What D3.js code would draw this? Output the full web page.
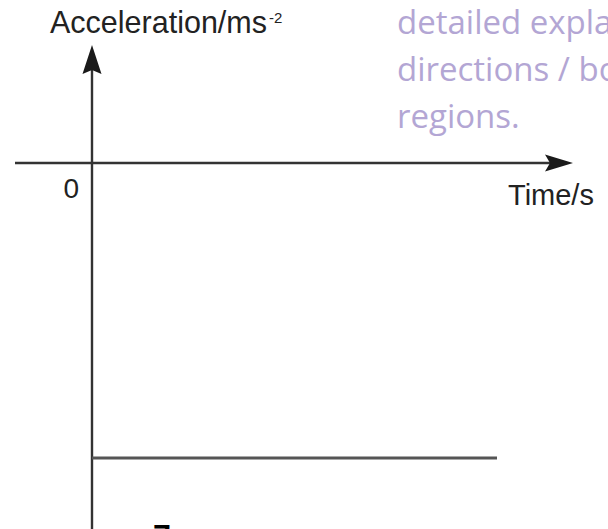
<!DOCTYPE html>
<html>
<head>
<meta charset="utf-8">
<script src="https://cdn.jsdelivr.net/npm/d3@7"></script>
<style>
  html, body { margin: 0; padding: 0; background: #fff; }
  svg { display: block; }
</style>
</head>
<body>
<svg id="chart" width="608" height="529"></svg>
<script>
// ---- data ----
const time = [0, 10];              // s
const acceleration = [-5, -5];     // m s^-2 (constant, negative)
const originTickLabels = ["0"];
const yAxisTitle = "Acceleration/ms";
const yAxisTitleSup = "-2";
const xAxisTitle = "Time/s";
const noteLines = ["detailed expla", "directions / bo", "regions."];
const noteFragment = "g";
const bottomFragment = "7";

// ---- layout ----
const W = 608, H = 529;
const svg = d3.select("#chart");

const x = d3.scaleLinear().domain([0, 10]).range([92, 497]);
const y = d3.scaleLinear().domain([0, -5]).range([163, 458]);

const axisColor = "#333";
const lineColor = "#555";

// x axis (horizontal through origin) with arrow head
const xLeft = 15, xTip = 573;
svg.append("line")
  .attr("x1", xLeft).attr("x2", xTip - 12)
  .attr("y1", y(0)).attr("y2", y(0))
  .attr("stroke", axisColor).attr("stroke-width", 2.4);
svg.append("path")
  .attr("d", `M${xTip},${y(0)} L${xTip - 28},${y(0) - 8.5} L${xTip - 23},${y(0)} L${xTip - 28},${y(0) + 8.5} Z`)
  .attr("fill", "#1a1a1a");

// y axis (vertical through origin) with arrow head
const yTip = 45;
svg.append("line")
  .attr("x1", x(0)).attr("x2", x(0))
  .attr("y1", H + 5).attr("y2", yTip + 12)
  .attr("stroke", axisColor).attr("stroke-width", 2.4);
svg.append("path")
  .attr("d", `M${x(0)},${yTip} L${x(0) + 9.5},${yTip + 29} L${x(0)},${yTip + 25} L${x(0) - 9.5},${yTip + 29} Z`)
  .attr("fill", "#1a1a1a");

// data line
const pts = time.map((t, i) => [t, acceleration[i]]);
svg.append("path")
  .datum(pts)
  .attr("d", d3.line().x(d => x(d[0])).y(d => y(d[1])))
  .attr("fill", "none")
  .attr("stroke", lineColor)
  .attr("stroke-width", 3);

// origin label
svg.selectAll("text.origin")
  .data(originTickLabels)
  .join("text")
  .attr("class", "origin")
  .attr("x", x(0) - 13).attr("y", y(0) + 35)
  .attr("text-anchor", "end")
  .attr("font-family", "Liberation Sans, Arial, sans-serif")
  .attr("font-size", 28)
  .attr("fill", "#222")
  .text(d => d);

// y axis title with superscript
const yt = svg.append("text")
  .attr("x", 50).attr("y", 33)
  .attr("font-family", "Liberation Sans, Arial, sans-serif")
  .attr("font-size", 30.5)
  .attr("fill", "#222");
yt.append("tspan").text(yAxisTitle);
yt.append("tspan").attr("dy", -10).attr("dx", 2).attr("font-size", 15).text(yAxisTitleSup);

// x axis title
svg.append("text")
  .attr("x", 508).attr("y", 205)
  .attr("font-family", "Liberation Sans, Arial, sans-serif")
  .attr("font-size", 29)
  .attr("fill", "#222")
  .text(xAxisTitle);

// overlaid purple note text (partially cut off)
const noteColor = "#b3a6d4";
svg.selectAll("text.note")
  .data(noteLines)
  .join("text")
  .attr("class", "note")
  .attr("x", 397)
  .attr("y", (d, i) => 34 + i * 47)
  .attr("font-family", "Open Sans, sans-serif")
  .attr("font-size", 33)
  .attr("fill", noteColor)
  .text(d => d);
svg.append("text")
  .attr("x", 553).attr("y", -13)
  .attr("font-family", "Open Sans, sans-serif")
  .attr("font-size", 33)
  .attr("fill", noteColor)
  .text(noteFragment);

// cut-off fragment at bottom
svg.append("text")
  .attr("x", 153).attr("y", 547)
  .attr("font-family", "Liberation Sans, Arial, sans-serif")
  .attr("font-weight", "bold")
  .attr("font-size", 32)
  .attr("fill", "#000")
  .text(bottomFragment);
</script>
</body>
</html>
